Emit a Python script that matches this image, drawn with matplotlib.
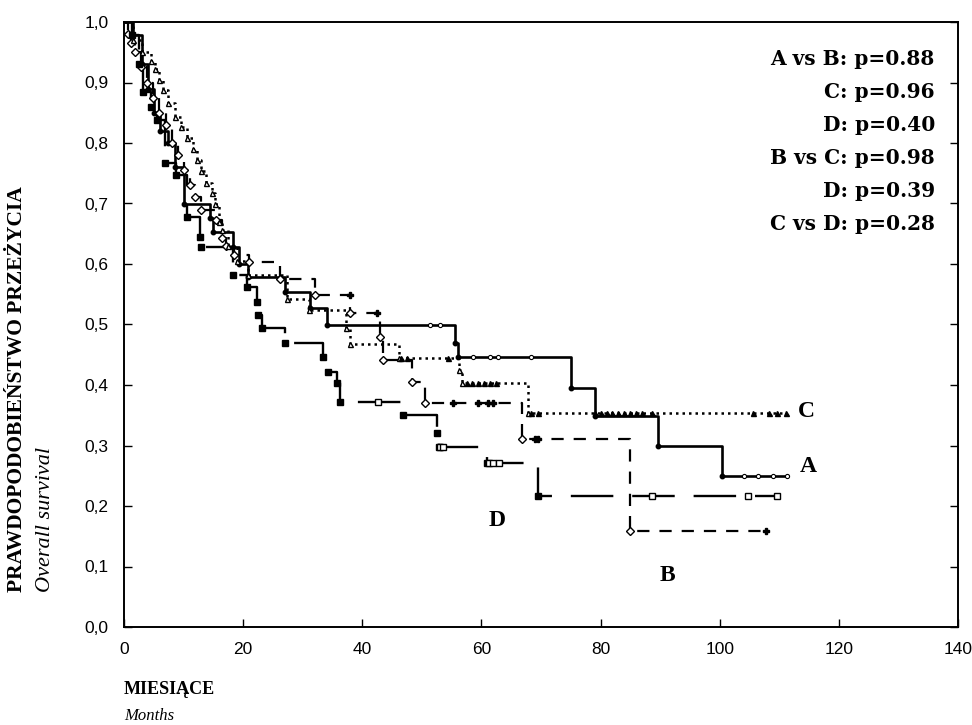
import matplotlib
matplotlib.use("Agg")
import matplotlib.pyplot as plt
from matplotlib.ticker import FuncFormatter, MultipleLocator

# Kaplan-Meier steps (time in months, survival)
a_t = [0, 1.5, 3, 4, 5, 6, 7.4, 8.5, 10, 14.4, 15, 18.3, 19.3, 20.8, 27, 31.2, 34,
       55.5, 56, 75, 79, 89.6, 100.4, 111.3]
a_s = [1.0, 0.978, 0.93, 0.89, 0.85, 0.82, 0.80, 0.76, 0.70, 0.676, 0.653, 0.628, 0.60,
       0.578, 0.554, 0.528, 0.50, 0.47, 0.446, 0.395, 0.349, 0.299, 0.25, 0.25]

b_t = [0, 0.7, 1.2, 1.8, 2.8, 3.8, 4.8, 5.8, 7, 8, 9, 10, 11, 12, 13, 15.5, 16.5, 17.2,
       18.5, 21, 26.2, 32, 38, 43, 43.5, 48.3, 50.5, 66.8, 84.9, 107.7]
b_s = [1.0, 0.98, 0.965, 0.95, 0.925, 0.9, 0.875, 0.85, 0.83, 0.8, 0.78, 0.755, 0.73,
       0.71, 0.69, 0.672, 0.643, 0.629, 0.615, 0.604, 0.575, 0.548, 0.519, 0.48, 0.442,
       0.405, 0.37, 0.311, 0.159, 0.159]

c_t = [0, 1.5, 3, 4.5, 5.2, 5.8, 6.5, 7.4, 8.5, 9.5, 10.5, 11.5, 12.2, 13, 13.8, 14.8,
       15.3, 16, 16.5, 17.5, 19, 20.8, 27.3, 31, 37.3, 38, 46.2, 56.3, 56.7, 67.8, 111.2]
c_s = [1.0, 0.97, 0.95, 0.935, 0.923, 0.904, 0.888, 0.866, 0.843, 0.827, 0.808, 0.79,
       0.772, 0.753, 0.734, 0.717, 0.70, 0.67, 0.656, 0.63, 0.605, 0.582, 0.542, 0.524,
       0.494, 0.467, 0.444, 0.425, 0.404, 0.353, 0.353]

d_t = [0, 1.3, 2.5, 3.2, 4.5, 5.5, 6.9, 8.8, 10.6, 12.8, 13, 18.3, 20.6, 22.3, 22.5,
       23.1, 27, 33.4, 34.3, 35.7, 36.3, 46.9, 52.6, 52.8, 61, 69.5, 109.8]
d_s = [1.0, 0.978, 0.93, 0.884, 0.86, 0.838, 0.767, 0.747, 0.678, 0.645, 0.628, 0.582,
       0.562, 0.538, 0.516, 0.494, 0.47, 0.447, 0.422, 0.403, 0.372, 0.35, 0.32, 0.298,
       0.271, 0.217, 0.217]

# censored observations
a_cens_t = [51.4, 53, 58.6, 61.4, 62.8, 68.4, 104, 106.5, 109, 111.3]
a_cens_s = [0.50, 0.50, 0.446, 0.446, 0.446, 0.446, 0.25, 0.25, 0.25, 0.25]
b_cens_t = [38, 42.4, 55.3, 59.5, 61.1, 62, 69, 69.5, 107.7]
b_cens_s = [0.548, 0.519, 0.37, 0.37, 0.37, 0.37, 0.311, 0.311, 0.159]
c_cens_t = [46.5, 47.5, 54.4, 57.5, 58.5, 59.5, 60.5, 61.5, 62.5, 68.4, 69.5, 79, 80, 81,
            82, 83, 84, 85, 86, 87, 88.6, 105.6, 108.2, 109.6, 111.2]
c_cens_s = [0.444, 0.444, 0.444, 0.404, 0.404, 0.404, 0.404, 0.404, 0.404] + [0.353] * 16
d_cens_t = [42.7, 53, 53.5, 61.2, 62, 63, 88.6, 104.8, 109.6]
d_cens_s = [0.372, 0.298, 0.298, 0.271, 0.271, 0.271, 0.217, 0.217, 0.217]

pvals = ["A vs B: p=0.88", "C: p=0.96", "D: p=0.40",
         "B vs C: p=0.98", "D: p=0.39", "C vs D: p=0.28"]

serif = "Liberation Serif"

fig = plt.figure(figsize=(9.72, 7.25), dpi=100)
ax = fig.add_axes([124 / 972, 1 - 627 / 725, (958 - 124) / 972, (627 - 22) / 725])

# curves
ax.plot(a_t, a_s, drawstyle="steps-post", color="black", lw=1.9)
ax.plot(b_t, b_s, drawstyle="steps-post", color="black", lw=1.6, linestyle=(0, (5.5, 4.5)))
ax.plot(c_t, c_s, drawstyle="steps-post", color="black", lw=1.8, linestyle=(0, (1, 1.6)))
ax.plot(d_t, d_s, drawstyle="steps-post", color="black", lw=1.7, linestyle=(0, (18, 8)))

# event markers
ax.plot(a_t[1:-1], a_s[1:-1], ls="none", marker="o", ms=3.2, color="black")
ax.plot(b_t[1:-1], b_s[1:-1], ls="none", marker="D", ms=3.6, mfc="white", mec="black", mew=1.0)
ax.plot(c_t[1:-1], c_s[1:-1], ls="none", marker="^", ms=3.6, mfc="white", mec="black", mew=1.0)
ax.plot(d_t[1:-1], d_s[1:-1], ls="none", marker="s", ms=4.6, color="black")

# censored markers
ax.plot(a_cens_t, a_cens_s, ls="none", marker="o", ms=3.0, mfc="white", mec="black", mew=0.8)
ax.plot(b_cens_t, b_cens_s, ls="none", marker="P", ms=4.2, color="black")
ax.plot(c_cens_t, c_cens_s, ls="none", marker="^", ms=3.6, color="black")
ax.plot(d_cens_t, d_cens_s, ls="none", marker="s", ms=4.0, mfc="white", mec="black", mew=1.0)

# curve labels
lab_font = dict(family=serif, fontweight="bold", fontsize=17, ha="center", va="center")
ax.text(114.5, 0.357, "C", **lab_font)
ax.text(114.8, 0.266, "A", **lab_font)
ax.text(62.6, 0.176, "D", **lab_font)
ax.text(91.3, 0.085, "B", **lab_font)

# p-values
for i, txt in enumerate(pvals):
    ax.text(0.9724, (627 - 59 - 33 * i) / 605, txt, transform=ax.transAxes,
            family="DejaVu Serif", fontweight="bold", fontsize=14.5, ha="right", va="center")

ax.set_xlim(0, 140)
ax.set_ylim(0, 1.0)
ax.xaxis.set_major_locator(MultipleLocator(20))
ax.yaxis.set_major_locator(MultipleLocator(0.1))
ax.yaxis.set_major_formatter(FuncFormatter(lambda v, p: f"{v:.1f}".replace(".", ",")))
ax.xaxis.set_major_formatter(FuncFormatter(lambda v, p: f"{v:.0f}"))
ax.tick_params(direction="in", length=6, width=1, right=True, labelsize=12.5, pad=11,
               colors="black")
for lbl in ax.get_xticklabels() + ax.get_yticklabels():
    lbl.set_family(["Liberation Sans Narrow", "Liberation Sans"])
for sp in ax.spines.values():
    sp.set_linewidth(1.4)

# axis titles
fig.text(124 / 972, 1 - 690 / 725, "MIESIĄCE", family=serif, fontweight="bold",
         fontsize=13, ha="left", va="center")
fig.text(124 / 972, 1 - 716 / 725, "Months", family=serif, style="italic",
         fontsize=12, ha="left", va="center")
fig.text(17 / 972, 1 - 592 / 725, "PRAWDOPODOBIEŃSTWO PRZEŻYCIA", family=serif,
         fontweight="bold", fontsize=15.5, rotation=90, ha="center", va="bottom")
fig.text(45 / 972, 1 - 592 / 725, "Overall survival", family=serif, style="italic",
         fontsize=16, rotation=90, ha="center", va="bottom")

fig.savefig("out.png", dpi=100)
